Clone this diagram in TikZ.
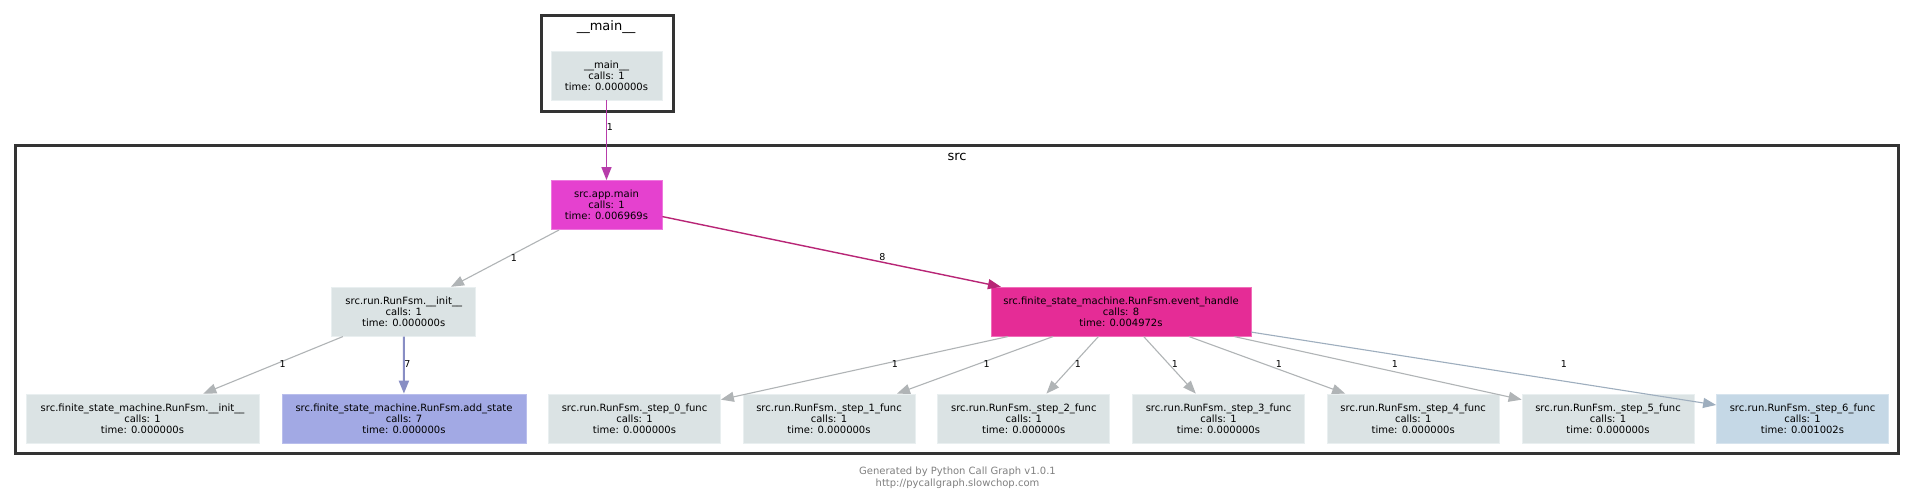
\documentclass[tikz,border=0pt]{standalone}
\usepackage{fontspec}
\setmainfont{DejaVu Sans}
\usetikzlibrary{arrows.meta}
\definecolor{nlight}{RGB}{219,227,228}
\definecolor{nlightb}{RGB}{233,239,240}
\definecolor{nmag}{RGB}{229,65,207}
\definecolor{nmagb}{RGB}{238,120,222}
\definecolor{npink}{RGB}{229,44,150}
\definecolor{npinkb}{RGB}{240,110,185}
\definecolor{nblue}{RGB}{162,169,228}
\definecolor{nblueb}{RGB}{185,190,236}
\definecolor{nsky}{RGB}{197,216,230}
\definecolor{nskyb}{RGB}{215,228,238}
\definecolor{emag}{RGB}{183,60,170}
\definecolor{epink}{RGB}{184,37,118}
\definecolor{egray}{RGB}{176,180,182}
\definecolor{eblue}{RGB}{136,142,196}
\definecolor{esky}{RGB}{158,174,190}
\definecolor{clusterc}{RGB}{51,51,51}
\definecolor{footc}{RGB}{128,128,128}
\begin{document}
\begin{tikzpicture}[x=1pt,y=-1pt,
  fn/.style={rectangle, inner sep=0pt, minimum height=49pt, align=center,
    font=\fontsize{10}{11.2}\selectfont, text=black, line width=0.8pt},
  lightn/.style={fn, fill=nlight, draw=nlightb},
  stepn/.style={lightn, minimum width=172pt},
  cluster/.style={rectangle, draw=clusterc, line width=3pt, inner sep=0pt},
  ctitle/.style={font=\fontsize{13}{15}\selectfont, text=black, inner sep=0pt},
  e/.style={line width=1.1pt, -{Triangle[length=13pt,width=10pt]}},
  lbl/.style={font=\fontsize{9.5}{11}\selectfont, text=black, inner sep=0pt},
  foot/.style={font=\fontsize{10}{11.7}\selectfont, text=footc, align=center, inner sep=0pt}]
\useasboundingbox (0,0) rectangle (1915,501);
\fill[white] (0,0) rectangle (1915,501);

% clusters
\node[cluster, minimum width=132pt, minimum height=96pt] (mainc) at (607,63) {};
\node[ctitle] (maint) at (606,27) {\_\_main\_\_};
\node[cluster, minimum width=1883pt, minimum height=308pt] (srcc) at (956.5,299) {};
\node[ctitle] (srct) at (957,157) {src};

% nodes
\node[lightn, minimum width=111pt] (mainn) at (606.5,75.5) {\_\_main\_\_\\calls: 1\\time: 0.000000s};
\node[fn, fill=nmag, draw=nmagb, minimum width=111pt] (app) at (606.5,205) {src.app.main\\calls: 1\\time: 0.006969s};
\node[lightn, minimum width=144pt] (init) at (403.7,311.7) {src.run.RunFsm.\_\_init\_\_\\calls: 1\\time: 0.000000s};
\node[fn, fill=npink, draw=npinkb, minimum width=260pt] (eh) at (1121,311.7) {src.finite\_state\_machine.RunFsm.event\_handle\\calls: 8\\time: 0.004972s};
\node[lightn, minimum width=233pt] (fsminit) at (142.5,418.5) {src.finite\_state\_machine.RunFsm.\_\_init\_\_\\calls: 1\\time: 0.000000s};
\node[fn, fill=nblue, draw=nblueb, minimum width=244pt] (addst) at (404,418.5) {src.finite\_state\_machine.RunFsm.add\_state\\calls: 7\\time: 0.000000s};
\node[stepn] (s0) at (634.5,418.5) {src.run.RunFsm.\_step\_0\_func\\calls: 1\\time: 0.000000s};
\node[stepn] (s1) at (829,418.5) {src.run.RunFsm.\_step\_1\_func\\calls: 1\\time: 0.000000s};
\node[stepn] (s2) at (1023.8,418.5) {src.run.RunFsm.\_step\_2\_func\\calls: 1\\time: 0.000000s};
\node[stepn] (s3) at (1218.5,418.5) {src.run.RunFsm.\_step\_3\_func\\calls: 1\\time: 0.000000s};
\node[stepn] (s4) at (1413.2,418.5) {src.run.RunFsm.\_step\_4\_func\\calls: 1\\time: 0.000000s};
\node[stepn] (s5) at (1608,418.5) {src.run.RunFsm.\_step\_5\_func\\calls: 1\\time: 0.000000s};
\node[stepn, fill=nsky, draw=nskyb] (s6) at (1802.5,418.5) {src.run.RunFsm.\_step\_6\_func\\calls: 1\\time: 0.001002s};

% edges
\draw[e, emag, line width=1.4pt] (mainn) -- (app) node[lbl] at (610,127) {1};
\draw[e, egray] (app) -- (init) node[lbl] at (514,257.7) {1};
\draw[e, epink, line width=1.4pt] (app) -- (eh) node[lbl] at (882.3,257.3) {8};
\draw[e, egray] (init) -- (fsminit) node[lbl] at (282.7,364) {1};
\draw[e, eblue, line width=2pt] (init) -- (addst) node[lbl] at (407.5,364) {7};
\draw[e, egray] (eh) -- (s0) node[lbl] at (895,364) {1};
\draw[e, egray] (eh) -- (s1) node[lbl] at (986.7,364) {1};
\draw[e, egray] (eh) -- (s2) node[lbl] at (1078,364) {1};
\draw[e, egray] (eh) -- (s3) node[lbl] at (1175,364) {1};
\draw[e, egray] (eh) -- (s4) node[lbl] at (1279,364) {1};
\draw[e, egray] (eh) -- (s5) node[lbl] at (1395,364) {1};
\draw[e, esky] (eh) -- (s6) node[lbl] at (1564,364) {1};

% footer
\node[foot] (footer) at (957.5,478) {Generated by Python Call Graph v1.0.1\\http://pycallgraph.slowchop.com};
\end{tikzpicture}
\end{document}
